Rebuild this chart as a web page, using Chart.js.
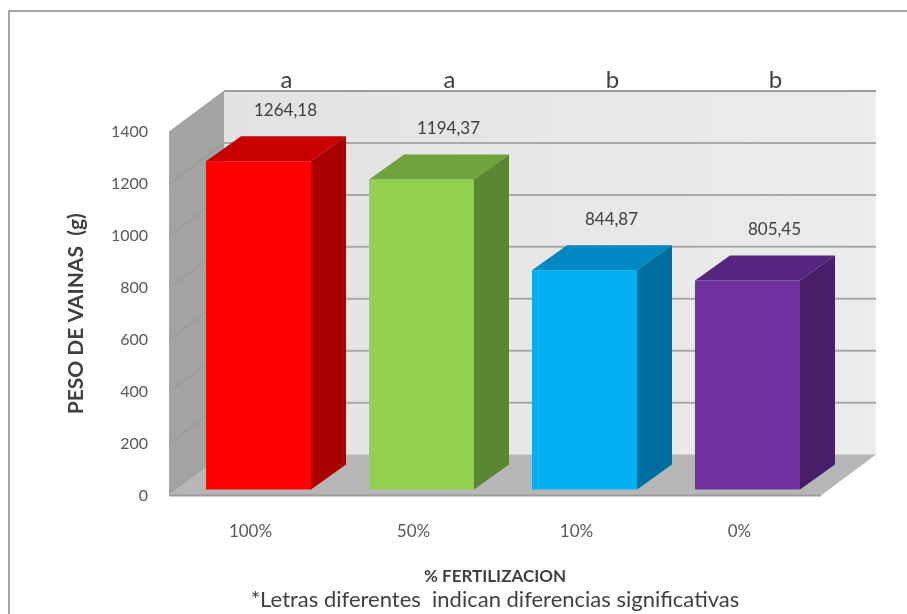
<!DOCTYPE html>
<html>
<head>
<meta charset="utf-8">
<script src="https://cdn.jsdelivr.net/npm/chart.js@4.4.1/dist/chart.umd.min.js"></script>
<style>
  html, body { margin: 0; padding: 0; background: #ffffff; }
  #wrap { position: relative; width: 907px; height: 614px; overflow: hidden; }
  canvas { display: block; }
</style>
</head>
<body>
<div id="wrap"><canvas id="c" width="907" height="614"></canvas></div>
<script>
// ---- data ----
const categories = ['100%', '50%', '10%', '0%'];
const pesoVainas = [1264.18, 1194.37, 844.87, 805.45];
const letras = ['a', 'a', 'b', 'b'];
const yMin = 0, yMax = 1400, yStep = 200;
const footnote = '*Letras diferentes  indican diferencias significativas';

// ---- styles ----
const frontColors = ['#ff0000', '#92d050', '#00b0f0', '#7030a0'];
const topColors   = ['#c80000', '#6fa33e', '#0089c2', '#56257f'];
const sideColors  = ['#a80000', '#5b8632', '#006f9e', '#461e69'];
const FONT = 'Lato, "Open Sans", sans-serif';

const WALL_DX = 55, WALL_DY = -41;   // depth of the walls
const BAR_SX = 8, BAR_SY = -6;       // bars sit slightly behind the front plane
const BAR_DX = 35, BAR_DY = -25;     // depth of each bar

const fmt = v => v.toFixed(2).replace('.', ',');

const frame3d = {
  id: 'frame3d',
  beforeDraw(chart) {
    const ctx = chart.ctx;
    ctx.save();
    ctx.fillStyle = '#ffffff';
    ctx.fillRect(0, 0, chart.width, chart.height);
    ctx.strokeStyle = '#a6a6a6';
    ctx.lineWidth = 2;
    ctx.strokeRect(9, 11, 1200, 1000);
    ctx.restore();
  },
  beforeDatasetsDraw(chart) {
    const ctx = chart.ctx;
    const a = chart.chartArea;
    const y = chart.scales.y;
    const fTop = y.getPixelForValue(yMax);
    const fBot = y.getPixelForValue(yMin);
    ctx.save();
    // back wall
    const bw = ctx.createLinearGradient(a.left + WALL_DX, 0, a.right + WALL_DX, 0);
    bw.addColorStop(0, '#e2e2e2');
    bw.addColorStop(1, '#ececec');
    ctx.fillStyle = bw;
    ctx.fillRect(a.left + WALL_DX, fTop + WALL_DY, a.right - a.left, fBot - fTop);
    // left wall
    ctx.fillStyle = '#a3a3a3';
    ctx.beginPath();
    ctx.moveTo(a.left, fTop);
    ctx.lineTo(a.left + WALL_DX, fTop + WALL_DY);
    ctx.lineTo(a.left + WALL_DX, fBot + WALL_DY);
    ctx.lineTo(a.left, fBot);
    ctx.closePath();
    ctx.fill();
    // floor
    ctx.fillStyle = '#b6b6b6';
    ctx.beginPath();
    ctx.moveTo(a.left, fBot);
    ctx.lineTo(a.left + WALL_DX, fBot + WALL_DY);
    ctx.lineTo(a.right + WALL_DX, fBot + WALL_DY);
    ctx.lineTo(a.right, fBot);
    ctx.closePath();
    ctx.fill();
    ctx.strokeStyle = '#9a9a9a';
    ctx.lineWidth = 2;
    ctx.beginPath();
    ctx.moveTo(a.left, fBot);
    ctx.lineTo(a.right, fBot);
    ctx.stroke();
    // gridlines
    y.ticks.forEach(t => {
      if (t.value === yMin) return;
      const py = y.getPixelForValue(t.value);
      ctx.strokeStyle = t.value === yMax ? '#9c9c9c' : '#a8a8a8';
      ctx.lineWidth = 2;
      ctx.beginPath();
      ctx.moveTo(a.left + WALL_DX, py + WALL_DY);
      ctx.lineTo(a.right + WALL_DX, py + WALL_DY);
      ctx.stroke();
      ctx.strokeStyle = 'rgba(140,140,140,0.6)';
      ctx.lineWidth = 1;
      ctx.beginPath();
      ctx.moveTo(a.left, py);
      ctx.lineTo(a.left + WALL_DX, py + WALL_DY);
      ctx.stroke();
    });
    // shift bars slightly into depth
    ctx.translate(BAR_SX, BAR_SY);
  },
  afterDatasetsDraw(chart) {
    const ctx = chart.ctx;
    ctx.restore();
    const meta = chart.getDatasetMeta(0);
    ctx.save();
    meta.data.forEach((el, i) => {
      const p = el.getProps(['x', 'y', 'base', 'width'], true);
      const l = p.x - p.width / 2 + BAR_SX, r = p.x + p.width / 2 + BAR_SX;
      const t = p.y + BAR_SY, b = p.base + BAR_SY;
      ctx.fillStyle = topColors[i];
      ctx.beginPath();
      ctx.moveTo(l, t);
      ctx.lineTo(l + BAR_DX, t + BAR_DY);
      ctx.lineTo(r + BAR_DX, t + BAR_DY);
      ctx.lineTo(r, t);
      ctx.closePath();
      ctx.fill();
      ctx.fillStyle = sideColors[i];
      ctx.beginPath();
      ctx.moveTo(r, t);
      ctx.lineTo(r + BAR_DX, t + BAR_DY);
      ctx.lineTo(r + BAR_DX, b + BAR_DY);
      ctx.lineTo(r, b);
      ctx.closePath();
      ctx.fill();
    });
    ctx.restore();
  },
  afterDraw(chart) {
    const ctx = chart.ctx;
    const meta = chart.getDatasetMeta(0);
    const y = chart.scales.y;
    ctx.save();
    ctx.textAlign = 'center';
    ctx.textBaseline = 'middle';
    meta.data.forEach((el, i) => {
      ctx.fillStyle = '#404040';
      ctx.font = '17px ' + FONT;
      ctx.fillText(fmt(pesoVainas[i]), el.x + 35, el.y - 57);
      ctx.font = '24px ' + FONT;
      ctx.fillText(letras[i], el.x + 36, y.getPixelForValue(yMax) - 52);
    });
    ctx.restore();
  }
};

new Chart(document.getElementById('c'), {
  type: 'bar',
  data: {
    labels: categories,
    datasets: [{
      data: pesoVainas,
      backgroundColor: frontColors,
      borderWidth: 0,
      categoryPercentage: 0.644,
      barPercentage: 1,
      clip: false
    }]
  },
  plugins: [frame3d],
  options: {
    responsive: false,
    animation: false,
    devicePixelRatio: 1,
    layout: { padding: { left: 0, top: 132, right: 86, bottom: 0 } },
    plugins: {
      legend: { display: false },
      tooltip: { enabled: false },
      subtitle: {
        display: true,
        position: 'bottom',
        fullSize: false,
        text: footnote,
        color: '#404040',
        font: { family: FONT, size: 22 },
        padding: { top: 0, bottom: 1 }
      }
    },
    scales: {
      y: {
        min: yMin, max: yMax,
        ticks: {
          stepSize: yStep, padding: 21, color: '#595959',
          font: { family: FONT, size: 16 },
          callback: v => String(v)
        },
        grid: { display: false, drawTicks: false },
        border: { display: false },
        title: {
          display: true, text: 'PESO DE VAINAS  (g)', color: '#404040',
          font: { family: FONT, size: 21, weight: 'bold' },
          padding: { top: 64, bottom: 0 }
        },
        afterFit(s) { s.width = 169; }
      },
      x: {
        ticks: { padding: 26, color: '#595959', font: { family: FONT, size: 17 } },
        grid: { display: false, drawTicks: false },
        border: { display: false },
        title: {
          display: true, text: '% FERTILIZACION', color: '#404040',
          font: { family: FONT, size: 17, weight: 'bold' },
          padding: { top: 0, bottom: 0 }
        },
        afterFit(s) { s.height = 91; }
      }
    }
  }
});
</script>
</body>
</html>
